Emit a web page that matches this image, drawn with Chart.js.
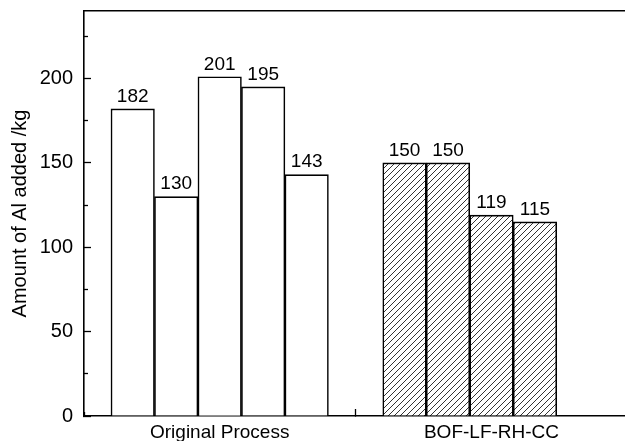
<!DOCTYPE html>
<html><head><meta charset="utf-8">
<script src="https://cdn.jsdelivr.net/npm/chart.js@4.4.1/dist/chart.umd.min.js"></script>
<style>html,body{margin:0;padding:0;background:#fff;overflow:hidden}#wrap{width:625px;height:441px}</style>
</head><body><div id="wrap"><canvas id="c" width="625" height="441"></canvas></div>
<script>
const groupLabels = ['Original Process', 'BOF-LF-RH-CC'];
const groupLabelPos = [3, 9.25];
const groupMidTick = [6.125];
const originalPos = [1, 2, 3, 4, 5];
const originalValues = [182, 130, 201, 195, 143];
const bofPos = [7.25, 8.25, 9.25, 10.25];
const bofValues = [150, 150, 119, 115];
const yMajorTicks = [0, 50, 100, 150, 200];
const yMinorTicks = [25, 75, 125, 175, 225];
const yTitle = 'Amount of Al added /kg';

const FONT = "'Liberation Sans', Arial, sans-serif";
const X_MIN = -0.12, X_MAX = 12.32, Y_MIN = 0, Y_MAX = 240;

const canvas = document.getElementById('c');
const ctx = canvas.getContext('2d');
function makeHatch() {
  const n = 6;
  const c = document.createElement('canvas');
  c.width = n; c.height = n;
  const g = c.getContext('2d');
  g.fillStyle = '#fff'; g.fillRect(0, 0, n, n);
  g.strokeStyle = '#333'; g.lineWidth = 1;
  g.beginPath();
  g.moveTo(-1, n + 1); g.lineTo(n + 1, -1);
  g.moveTo(-1, 1); g.lineTo(1, -1);
  g.moveTo(n - 1, n + 1); g.lineTo(n + 1, n - 1);
  g.stroke();
  return ctx.createPattern(c, 'repeat');
}

const valueLabels = {
  id: 'valueLabels',
  afterDatasetsDraw(chart) {
    const c = chart.ctx;
    c.save();
    c.font = '19px ' + FONT;
    c.fillStyle = '#000';
    c.textAlign = 'center';
    c.textBaseline = 'bottom';
    chart.data.datasets.forEach((ds, di) => {
      const meta = chart.getDatasetMeta(di);
      meta.data.forEach((el, i) => {
        c.fillText(String(ds.data[i].y), el.x, el.y - 3);
      });
    });
    c.restore();
  }
};

const toPts = (xs, ys) => xs.map((x, i) => ({ x: x, y: ys[i] }));
const noPad = s => { s.paddingTop = 0; s.paddingBottom = 0; s.paddingLeft = 0; s.paddingRight = 0; };

new Chart(ctx, {
  type: 'bar',
  data: {
    datasets: [
      { label: groupLabels[0], data: toPts(originalPos, originalValues), backgroundColor: '#fff',
        borderColor: '#000', borderWidth: 1.6, barPercentage: 1, categoryPercentage: 1, grouped: false },
      { label: groupLabels[1], data: toPts(bofPos, bofValues), backgroundColor: makeHatch(),
        borderColor: '#000', borderWidth: 1.6, barPercentage: 1, categoryPercentage: 1, grouped: false }
    ]
  },
  options: {
    responsive: false, animation: false, devicePixelRatio: 1,
    layout: { padding: { top: 11, left: 0, right: 0, bottom: 0 } },
    plugins: { legend: { display: false }, tooltip: { enabled: false } },
    scales: {
      x: {
        type: 'linear', position: 'bottom', min: X_MIN, max: X_MAX, weight: 1, offset: false,
        afterBuildTicks: s => { s.ticks = groupLabelPos.map(v => ({ value: v })); },
        ticks: { callback: (v, i) => groupLabels[i], font: { size: 19, family: FONT }, color: '#000',
                 padding: 12, maxRotation: 0, autoSkip: false },
        grid: { drawOnChartArea: false, drawTicks: true, tickLength: -7, tickColor: '#000', tickWidth: 1.3 },
        border: { display: true, color: '#000', width: 1.6 },
        afterFit: s => { noPad(s); s.height = 25; }
      },
      xMinor: {
        type: 'linear', position: 'bottom', min: X_MIN, max: X_MAX, weight: 0, offset: false,
        afterBuildTicks: s => { s.ticks = groupMidTick.map(v => ({ value: v })); },
        ticks: { display: false },
        grid: { drawOnChartArea: false, drawTicks: true, tickLength: -4, tickColor: '#000', tickWidth: 1.3 },
        border: { display: false },
        afterFit: s => { noPad(s); s.height = 0; }
      },
      xTop: {
        type: 'linear', position: 'top', min: X_MIN, max: X_MAX, offset: false,
        ticks: { display: false },
        grid: { display: false, drawTicks: false },
        border: { display: true, color: '#000', width: 1.6 },
        afterFit: s => { noPad(s); s.height = 0; }
      },
      y: {
        type: 'linear', position: 'left', min: Y_MIN, max: Y_MAX, weight: 1,
        afterBuildTicks: s => { s.ticks = yMajorTicks.map(v => ({ value: v })); },
        ticks: { font: { size: 20, family: FONT }, color: '#000', padding: 18 },
        grid: { drawOnChartArea: false, drawTicks: true, tickLength: -7, tickColor: '#000', tickWidth: 1.3 },
        border: { display: true, color: '#000', width: 1.6 },
        title: { display: true, text: yTitle, font: { size: 20, family: FONT }, color: '#000', padding: { top: 8, bottom: 0 } },
        afterFit: s => { noPad(s); s.width = 84; }
      },
      yMinor: {
        type: 'linear', position: 'left', min: Y_MIN, max: Y_MAX, weight: 0,
        afterBuildTicks: s => { s.ticks = yMinorTicks.map(v => ({ value: v })); },
        ticks: { display: false },
        grid: { drawOnChartArea: false, drawTicks: true, tickLength: -4, tickColor: '#000', tickWidth: 1.3 },
        border: { display: false },
        afterFit: s => { noPad(s); s.width = 0; }
      }
    }
  },
  plugins: [valueLabels]
});
</script>
</body></html>
